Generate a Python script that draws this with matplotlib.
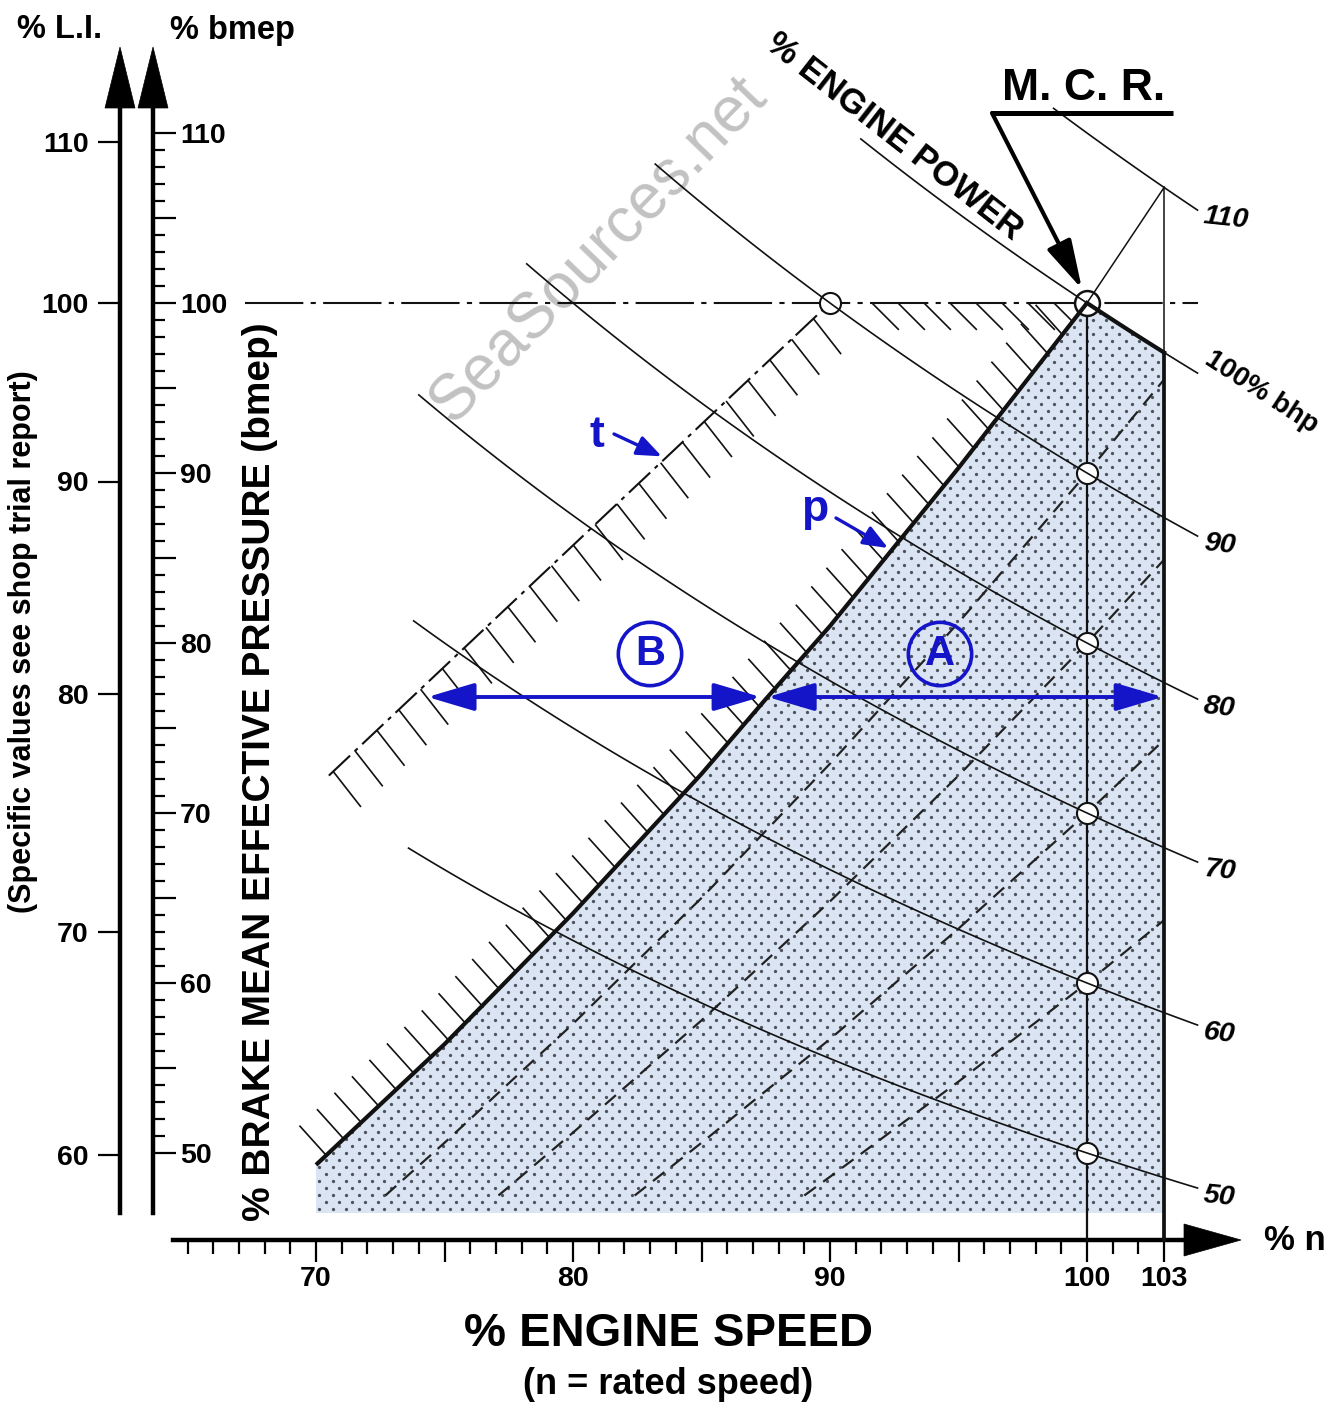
import numpy as np
import matplotlib
matplotlib.use("Agg")
import matplotlib.pyplot as plt
from matplotlib.patches import Polygon, FancyArrowPatch, ArrowStyle
from matplotlib.collections import LineCollection
from matplotlib.ticker import FixedLocator, FuncFormatter, FixedFormatter

plt.rcParams['font.family'] = ['Liberation Sans', 'DejaVu Sans']

# ------------------------------------------------------------------ data
speed_major = [70, 75, 80, 85, 90, 95, 100, 103]
speed_labelled = [70, 80, 90, 100, 103]
speed_minor = [v for v in range(65, 103) if v not in speed_major]

bmep_major = list(range(50, 111, 5))
bmep_labelled = list(range(50, 111, 10))
bmep_minor = [v for v in range(51, 110) if v % 5]

li_labels = [60, 70, 80, 90, 100, 110]
li_at_bmep = [49.9, 63.0, 77.0, 89.5, 100.0, 109.5]

# heavy limit curve running into M.C.R.
limit_speed = [70, 75, 80, 85, 87.5, 90, 95, 100]
limit_bmep = [49.3, 56.4, 64.1, 72.3, 76.7, 81.0, 90.3, 100.0]

mcr_speed, mcr_bmep = 100, 100
max_speed = 103

# constant power lines (% of M.C.R. power)
power_levels = [110, 100, 90, 80, 70, 60, 50]
power_labels = ['110', '100% bhp', '90', '80', '70', '60', '50']
power_start = [98.7, 91.2, 83.2, 78.2, 74.0, 73.8, 73.6]
power_end = 104.3

# dashed propeller curves
prop_speed = [
    [72.7, 75, 80, 85, 90, 95, 100, 103],
    [77.1, 80, 85, 90, 95, 100, 103],
    [82.4, 85, 90, 95, 100, 103],
    [89.0, 90, 95, 100, 103],
]
prop_bmep = [
    [47.5, 50.6, 57.6, 65.0, 72.9, 81.2, 90.0, 95.5],
    [47.5, 51.2, 57.8, 64.8, 72.2, 80.0, 84.9],
    [47.5, 50.6, 56.7, 63.2, 70.0, 74.3],
    [47.5, 48.6, 54.2, 60.0, 63.7],
]

# "t" limit line
t_speed = [70.5, 90.0]
t_bmep = [72.2, 100.0]

# check points on the 100 % speed line
check_bmep = [90, 80, 70, 60, 50]

# ------------------------------------------------------------------ layout helpers
W, H = 1337, 1405
N0_PX, N_SCALE = 316.0, 25.7     # pixel column of 70 % speed, pixels per % speed
B0_PX, B_SCALE = 303.0, 17.0     # pixel row of 100 % bmep, pixels per % bmep


def to_data(xp, yp):
    xp = np.asarray(xp, float)
    yp = np.asarray(yp, float)
    return 70 + (xp - N0_PX) / N_SCALE, 100 - (yp - B0_PX) / B_SCALE


def to_px(n, b):
    n = np.asarray(n, float)
    b = np.asarray(b, float)
    return N0_PX + (n - 70) * N_SCALE, B0_PX - (b - 100) * B_SCALE


def power_curve(p, n):
    # bmep x speed = power
    return p * 100.0 / np.asarray(n, float)


BLUE = '#1414c8'
BLACK = '#111111'

fig = plt.figure(figsize=(W / 100, H / 100), dpi=100)
ax = fig.add_axes([0, 0, 1, 1])
xl = (float(to_data(0, 0)[0]), float(to_data(W, 0)[0]))
yl = (float(to_data(0, H)[1]), float(to_data(0, 0)[1]))
ax.set_xlim(*xl)
ax.set_ylim(*yl)
ax.set_facecolor('white')

B_AXIS = float(to_data(0, 1240)[1])      # speed axis level
N_BMEP_AXIS = float(to_data(153, 0)[0])  # bmep scale column
N_LI_AXIS = float(to_data(120, 0)[0])    # L.I. scale column
B_FLOOR = float(to_data(0, 1213)[1])
B_TOP = float(to_data(0, 106)[1])

# ------------------------------------------------------------------ axes / scales
for s in ['top', 'right']:
    ax.spines[s].set_visible(False)
ax.spines['left'].set_position(('data', N_BMEP_AXIS))
ax.spines['left'].set_bounds(B_FLOOR, B_TOP)
ax.spines['left'].set_linewidth(3.2)
ax.spines['bottom'].set_position(('data', B_AXIS))
ax.spines['bottom'].set_bounds(float(to_data(173, 0)[0]), float(to_data(1188, 0)[0]))
ax.spines['bottom'].set_linewidth(3.2)
ax.xaxis.set_ticks_position('bottom')
ax.yaxis.set_ticks_position('left')

ax.yaxis.set_major_locator(FixedLocator(bmep_major))
ax.yaxis.set_minor_locator(FixedLocator(bmep_minor))
ax.yaxis.set_major_formatter(FuncFormatter(lambda v, _: f"{v:.0f}" if round(v) in bmep_labelled else ''))
ax.tick_params(axis='y', which='major', direction='in', length=16.5, width=1.6,
               labelsize=20.5, pad=-19.5)
ax.tick_params(axis='y', which='minor', direction='in', length=8.8, width=1.6)

ax.xaxis.set_major_locator(FixedLocator(speed_major))
ax.xaxis.set_minor_locator(FixedLocator(speed_minor))
ax.xaxis.set_major_formatter(FuncFormatter(lambda v, _: f"{v:.0f}" if round(v) in speed_labelled else ''))
ax.tick_params(axis='x', which='major', direction='out', length=16, width=1.6,
               labelsize=20.5, pad=3)
ax.tick_params(axis='x', which='minor', direction='out', length=10, width=1.6)
for lab in ax.yaxis.get_majorticklabels():
    lab.set_horizontalalignment('left')
for lab in ax.get_xticklabels() + ax.get_yticklabels():
    lab.set_fontweight('bold')

# L.I. scale
ax_li = fig.add_axes([0, 0, 1, 1])
ax_li.set_xlim(*xl)
ax_li.set_ylim(*yl)
ax_li.patch.set_visible(False)
for s in ['top', 'right', 'bottom']:
    ax_li.spines[s].set_visible(False)
ax_li.spines['left'].set_position(('data', N_LI_AXIS))
ax_li.spines['left'].set_bounds(B_FLOOR, B_TOP)
ax_li.spines['left'].set_linewidth(3.2)
ax_li.set_xticks([])
ax_li.yaxis.set_major_locator(FixedLocator(li_at_bmep))
ax_li.yaxis.set_major_formatter(FixedFormatter([str(v) for v in li_labels]))
ax_li.tick_params(axis='y', which='major', direction='out', length=15.5, width=1.6,
                  labelsize=20.5, pad=7)
for lab in ax_li.get_yticklabels():
    lab.set_fontweight('bold')


def px_poly(points, **kw):
    xs, ys = to_data([p[0] for p in points], [p[1] for p in points])
    return Polygon(np.column_stack([xs, ys]), closed=True, clip_on=False, **kw)


# arrow heads of the three scales
for cx in (120, 153):
    ax.add_patch(px_poly([(cx - 15, 108), (cx + 15, 108), (cx, 47)], fc='black', ec='black', lw=0.5, zorder=6))
ax.add_patch(px_poly([(1184, 1224), (1184, 1256), (1241, 1240)], fc='black', ec='black', lw=0.5, zorder=6))

# ------------------------------------------------------------------ load region
corner_n = np.linspace(mcr_speed, max_speed, 20)
corner_b = power_curve(100, corner_n)
region = list(zip(limit_speed, limit_bmep)) + list(zip(corner_n[1:], corner_b[1:])) + \
    [(max_speed, B_FLOOR), (limit_speed[0], B_FLOOR)]
fill = Polygon(region, closed=True, fc='#dae4f2', ec='none', zorder=1)
ax.add_patch(fill)

# dot screen inside the region
gx, gy = [], []
for i, yp in enumerate(np.arange(292, 1216, 7.0)):
    xs = np.arange(300 + (6.5 if i % 2 else 0.0), 1180, 13.0)
    gx.append(xs)
    gy.append(np.full_like(xs, yp))
dx_, dy_ = to_data(np.concatenate(gx), np.concatenate(gy))
dots = ax.scatter(dx_, dy_, s=5.5, c='#4c525c', linewidths=0, zorder=1.5)
dots.set_clip_path(fill)

# ------------------------------------------------------------------ hatching
hatch_zone = Polygon([(xl[0], 100), (mcr_speed, mcr_bmep)] +
                     list(zip(limit_speed[::-1], limit_bmep[::-1])) +
                     [(limit_speed[0], yl[0]), (xl[0], yl[0])],
                     closed=True, transform=ax.transData)

cx, cy = to_px(limit_speed, limit_bmep)
seg = np.hypot(np.diff(cx), np.diff(cy))
arc = np.concatenate([[0], np.cumsum(seg)])
s_h = np.arange(14, arc[-1] - 18, 24.0)
hx, hy = np.interp(s_h, arc, cx), np.interp(s_h, arc, cy)
a = np.deg2rad(48)
ex, ey = hx - 40 * np.cos(a), hy - 40 * np.sin(a)
segs = []
for x0, y0, x1, y1 in zip(ex, ey, hx, hy):
    p0 = to_data(x0, y0)
    p1 = to_data(x1, y1)
    segs.append([(float(p0[0]), float(p0[1])), (float(p1[0]), float(p1[1]))])
# hatching under the 100 % bmep line
a2 = np.deg2rad(45)
for x0 in np.arange(872, 1066, 26.0):
    p0 = to_data(x0, B0_PX)
    p1 = to_data(x0 + 38 * np.cos(a2), B0_PX + 38 * np.sin(a2))
    segs.append([(float(p0[0]), float(p0[1])), (float(p1[0]), float(p1[1]))])
lc = LineCollection(segs, colors=BLACK, linewidths=1.2, zorder=3)
ax.add_collection(lc)
lc.set_clip_path(hatch_zone)

# hatching of the t line
tx, ty = to_px(t_speed, t_bmep)
tlen = np.hypot(tx[1] - tx[0], ty[1] - ty[0])
ux, uy = (tx[1] - tx[0]) / tlen, (ty[1] - ty[0]) / tlen
a3 = np.deg2rad(52)
tsegs = []
for s in np.arange(6, tlen - 16, 30.0):
    bx, by = tx[0] + ux * s, ty[0] + uy * s
    p0 = to_data(bx, by)
    p1 = to_data(bx + 45 * np.cos(a3), by + 45 * np.sin(a3))
    tsegs.append([(float(p0[0]), float(p0[1])), (float(p1[0]), float(p1[1]))])
ax.add_collection(LineCollection(tsegs, colors=BLACK, linewidths=1.2, zorder=3))
ax.plot(t_speed, t_bmep, color=BLACK, lw=1.5, ls=(0, (14, 3, 2, 3)), zorder=3)

# ------------------------------------------------------------------ lines
ax.plot([float(to_data(245, 0)[0]), power_end], [mcr_bmep, mcr_bmep], color=BLACK, lw=1.5,
        ls=(0, (28, 3.5, 2.5, 3.5)), zorder=2.6)

for sp, bp in zip(prop_speed, prop_bmep):
    ax.plot(sp, bp, color='#222222', lw=1.6, ls=(0, (6.5, 4)), zorder=2.8)

for p, n0 in zip(power_levels, power_start):
    n = np.linspace(n0, power_end, 80)
    ax.plot(n, power_curve(p, n), color=BLACK, lw=1.2, zorder=5)

ax.plot([mcr_speed, mcr_speed], [B_AXIS, mcr_bmep], color=BLACK, lw=1.6, zorder=3)
b103 = float(power_curve(100, max_speed))
b110 = float(power_curve(110, max_speed))
ax.plot([max_speed, max_speed], [B_AXIS, b103], color=BLACK, lw=2.7, zorder=6)
ax.plot([max_speed, max_speed], [b103, b110], color=BLACK, lw=1.1, zorder=5)
ax.plot([mcr_speed, max_speed], [mcr_bmep, b110], color=BLACK, lw=1.1, zorder=5)
ax.plot(corner_n, corner_b, color=BLACK, lw=3.0, zorder=6)
ax.plot(limit_speed, limit_bmep, color=BLACK, lw=3.0, zorder=6, solid_capstyle='butt')

ax.scatter([mcr_speed] * len(check_bmep), check_bmep, s=230, fc='white', ec=BLACK, lw=1.5, zorder=4.5)
ax.scatter([t_speed[1]], [t_bmep[1]], s=230, fc='white', ec=BLACK, lw=1.5, zorder=4.5)
ax.scatter([mcr_speed], [mcr_bmep], s=320, fc='white', ec=BLACK, lw=1.8, zorder=4.5)

# power line labels
for p, lab in zip(power_levels, power_labels):
    bend = float(power_curve(p, power_end))
    if lab.endswith('bhp'):
        ax.annotate(lab, xy=(power_end, bend), xytext=(46, -14), textcoords='offset points',
                    ha='center', va='center', rotation=-33, fontsize=20, fontweight='bold')
    else:
        ax.annotate(lab, xy=(power_end, bend), xytext=(3.5, -6), textcoords='offset points',
                    ha='left', va='center', rotation=-6, fontsize=20.5, fontweight='bold',
                    fontstyle='italic')

# ------------------------------------------------------------------ M.C.R. callout
def px_text(xp, yp, s, **kw):
    x, y = to_data(xp, yp)
    return ax.text(float(x), float(y), s, **kw)


px_text(1084, 88, 'M. C. R.', fontsize=32, fontweight='bold', ha='center', va='center')
ux0, uy0 = to_data([991, 1173], [113, 113])
ax.plot(ux0, uy0, color='black', lw=3.6, solid_capstyle='butt', zorder=6, clip_on=False)
tail = to_data(992, 113)
tip_x, tip_y = to_px(mcr_speed, mcr_bmep)
tip = to_data(tip_x - 5, tip_y - 14)
ax.add_patch(FancyArrowPatch((float(tail[0]), float(tail[1])), (float(tip[0]), float(tip[1])),
                             arrowstyle=ArrowStyle('-|>', head_length=3.0, head_width=0.8),
                             mutation_scale=10, lw=3.0, color='black', shrinkA=0, shrinkB=0, zorder=7))

px_text(894, 137, '% ENGINE POWER', fontsize=25, fontweight='bold', ha='center', va='center',
        rotation=-38, rotation_mode='anchor')

# ------------------------------------------------------------------ blue annotations
t_tip_n = 83.6
t_tip_b = float(np.interp(t_tip_n, t_speed, t_bmep))
p_tip_n = 92.4
p_tip_b = float(np.interp(p_tip_n, limit_speed, limit_bmep))
px_text(597, 436, 't', fontsize=32, fontweight='bold', color=BLUE, ha='center', va='center')
px_text(815, 510, 'p', fontsize=32, fontweight='bold', color=BLUE, ha='center', va='center')
for tail_px, tip_d in (((614, 434), (t_tip_n, t_tip_b)), ((836, 518), (p_tip_n, p_tip_b))):
    tl = to_data(*tail_px)
    ax.add_patch(FancyArrowPatch((float(tl[0]), float(tl[1])), tip_d,
                                 arrowstyle=ArrowStyle('-|>', head_length=1.5, head_width=0.6),
                                 mutation_scale=10, lw=2.4, color=BLUE, shrinkA=0, shrinkB=3, zorder=8))

for xp, s in ((650, 'B'), (940, 'A')):
    px_text(xp, 654, s, fontsize=30, fontweight='bold', color=BLUE, ha='center', va='center',
            bbox=dict(boxstyle='circle,pad=0.28', fc='none', ec=BLUE, lw=2.6), zorder=8)

arrow_b = float(to_data(0, 697)[1])
n_t = float(np.interp(arrow_b, t_bmep, t_speed))
n_c = float(np.interp(arrow_b, limit_bmep, limit_speed))
dbl = ArrowStyle('<|-|>', head_length=2.9, head_width=0.86)
ax.add_patch(FancyArrowPatch((n_t, arrow_b), (n_c, arrow_b), arrowstyle=dbl, mutation_scale=10,
                             lw=2.8, color=BLUE, shrinkA=11, shrinkB=5, zorder=8))
ax.add_patch(FancyArrowPatch((n_c, arrow_b), (max_speed, arrow_b), arrowstyle=dbl, mutation_scale=10,
                             lw=2.8, color=BLUE, shrinkA=0, shrinkB=1, zorder=8))

# ------------------------------------------------------------------ titles
px_text(60, 30, '% L.I.', fontsize=23.5, fontweight='bold', ha='center', va='center')
px_text(232, 30, '% bmep', fontsize=23.5, fontweight='bold', ha='center', va='center')
px_text(270, 772, '% BRAKE MEAN EFFECTIVE PRESSURE (bmep)', fontsize=28, fontweight='bold',
        rotation=90, rotation_mode='anchor', ha='center', va='baseline')
px_text(31, 642, '(Specific values see shop trial report)', fontsize=22, fontweight='bold',
        rotation=90, rotation_mode='anchor', ha='center', va='baseline')
px_text(669, 1334, '% ENGINE SPEED', fontsize=34, fontweight='bold', ha='center', va='center')
px_text(668, 1384, '(n = rated speed)', fontsize=26, fontweight='bold', ha='center', va='center')
px_text(1295, 1240, '% n', fontsize=25, fontweight='bold', ha='center', va='center')
px_text(598, 250, 'SeaSources.net', fontsize=46, color='#c2c2c2', ha='center', va='center',
        rotation=46, rotation_mode='anchor', zorder=0.8)

fig.savefig('out.png', dpi=100)
